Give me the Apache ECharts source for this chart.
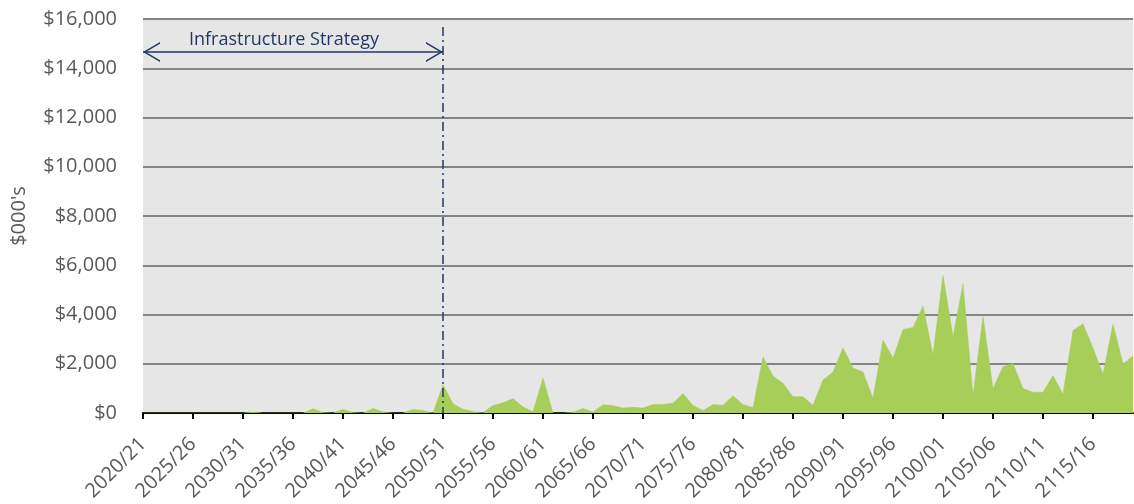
<!DOCTYPE html>
<html>
<head>
<meta charset="utf-8">
<script src="https://cdn.jsdelivr.net/npm/echarts@6/dist/echarts.min.js"></script>
<style>
  html, body { margin: 0; padding: 0; background: #ffffff; }
  #chart { width: 1134px; height: 504px; }
</style>
</head>
<body>
<div id="chart"></div>
<script>
// Financial years 2020/21 .. 2119/20
const years = [];
for (let y = 2020; y < 2120; y++) {
  years.push(y + '/' + String((y + 1) % 100).padStart(2, '0'));
}

// Spending ($000's)
const spending = [
  0, 0, 0, 0, 0, 0, 0, 0, 0, 0,
  0, 40, 0, 0, 0, 0, 0, 170, 20, 0,
  150, 20, 0, 180, 40, 0, 0, 140, 100, 0,
  1150, 380, 150, 60, 10, 300, 420, 580, 250, 50,
  1420, 0, 0, 30, 180, 40, 330, 300, 200, 230,
  200, 350, 350, 400, 790, 300, 100, 350, 300, 700,
  340, 220, 2270, 1500, 1210, 660, 660, 310, 1340, 1660,
  2650, 1830, 1660, 600, 2965, 2230, 3390, 3475, 4340, 2370,
  5600, 3100, 5240, 720, 3920, 990, 1880, 2010, 990, 845,
  845, 1510, 760, 3350, 3620, 2630, 1580, 3610, 1990, 2310
];

// Annotation
const strategyEnd = '2050/51';
const strategyLabel = 'Infrastructure Strategy';
const arrowLevel = 14660;
const dividerTop = 15680;

// Y axis ticks
const yMin = 0, yMax = 16000, yStep = 2000;

function money(v) {
  return '$' + String(v).replace(/\B(?=(\d{3})+(?!\d))/g, ',');
}

// open chevron pointing up, tip at the centre of the bounding box
const chevron = 'path://M50,-100 L50,-100 Z M0,100 L50,0 L100,100 L91,100 L50,17 L9,100 Z';

const chart = echarts.init(document.getElementById('chart'));
chart.setOption({
  animation: false,
  backgroundColor: '#ffffff',
  grid: {
    left: 143, right: 1, top: 19, bottom: 91,
    outerBoundsMode: 'none',
    containLabel: false,
    show: true, backgroundColor: '#e6e6e6', borderWidth: 0
  },
  xAxis: {
    type: 'category',
    data: years,
    boundaryGap: false,
    axisLine: { lineStyle: { color: '#000000', width: 2 } },
    axisTick: { show: true, interval: 4, length: 6, lineStyle: { color: '#000000', width: 2 } },
    axisLabel: {
      interval: 4, rotate: 45, margin: 28,
      color: '#595959', fontSize: 20, fontFamily: 'Open Sans'
    },
    splitLine: { show: false }
  },
  yAxis: {
    type: 'value',
    min: yMin, max: yMax, interval: yStep,
    name: "$000's",
    nameLocation: 'middle',
    nameGap: 114,
    nameTextStyle: { color: '#595959', fontSize: 20, fontFamily: 'Open Sans' },
    axisLine: { show: false },
    axisTick: { show: false },
    axisLabel: {
      margin: 26, color: '#595959', fontSize: 20, fontFamily: 'Open Sans',
      formatter: money
    },
    splitLine: { lineStyle: { color: '#858585', width: 2 } }
  },
  series: [{
    type: 'line',
    data: spending,
    symbol: 'none',
    silent: true,
    lineStyle: { width: 0.5, color: '#a6ce58' },
    areaStyle: { color: '#a6ce58', opacity: 1 },
    markLine: {
      silent: true,
      animation: false,
      data: [
        [
          { coord: [strategyEnd, dividerTop], symbol: 'none' },
          { coord: [strategyEnd, 0], symbol: 'none',
            lineStyle: { color: '#1f3864', width: 1.5, type: [9, 4, 2, 4] },
            label: { show: false } }
        ],
        [
          { coord: [years[0], arrowLevel], symbol: chevron, symbolSize: [20, 34] },
          { coord: [strategyEnd, arrowLevel], symbol: chevron, symbolSize: [20, 34],
            lineStyle: { color: '#1f3864', width: 1.5, type: 'solid' },
            label: {
              show: true, position: 'insideMiddleTop', distance: 3,
              formatter: strategyLabel, color: '#1f3864',
              fontSize: 18, fontFamily: 'Open Sans', padding: [0, 18, 0, 0]
            } }
        ]
      ],
      lineStyle: { color: '#1f3864', width: 1.5 },
      itemStyle: { color: '#1f3864' }
    }
  }]
});
</script>
</body>
</html>
